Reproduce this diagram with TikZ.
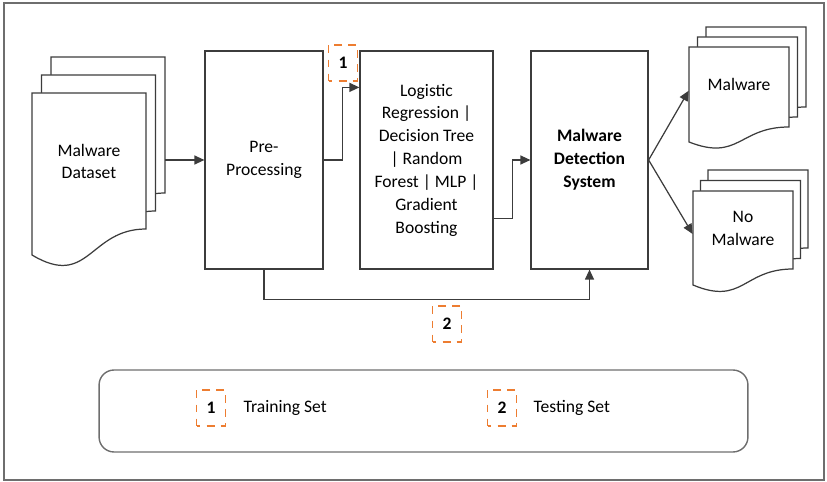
\documentclass[tikz,border=0pt]{standalone}
\usepackage{fontspec}
\setmainfont{Carlito}
\usetikzlibrary{positioning,fit,arrows.meta}

\definecolor{linegray}{RGB}{60,60,60}
\definecolor{framegray}{RGB}{110,110,110}
\definecolor{tagorange}{RGB}{237,125,49}

% three stacked document pages; #1 name, #2-#6 front page (x0, top, x1, right bottom, left bottom),
% #7/#8 offset of each page behind, #9 label on the front page
\newcommand{\docstack}[9]{%
  \foreach \k in {2,1,0}{
    \filldraw[page] ({#2+\k*#7},{#3-\k*#8}) -- ({#4+\k*#7},{#3-\k*#8})
      -- ({#4+\k*#7},{#5-\k*#8})
      .. controls ({(#2+#4)/2+\k*#7},{#5-\k*#8}) and ({(#2+#4)/2+\k*#7},{#5+2.31*(#6-#5)-\k*#8})
      .. ({#2+\k*#7},{#6-\k*#8}) -- cycle;
  }
  \node[fit={(#2,#3) (#4,{(#5+#6)/2})}, inner sep=0pt, align=center] (#1) {#9};
  \node[fit={({#2+2*#7},{#3-2*#8}) ({#4+2*#7},{#5-2*#8})}, inner sep=0pt] (#1-back) {};
}

\begin{document}
\begin{tikzpicture}[x=0.02cm, y=-0.02cm,
    font=\fontsize{10}{13}\selectfont,
    page/.style={draw=linegray, fill=white, line width=0.7pt},
    box/.style={draw=linegray, line width=0.7pt, minimum height=4.36cm, align=center},
    arr/.style={draw=linegray, line width=0.7pt, -{Triangle[length=2mm,width=1.8mm]}},
    tag/.style={draw=tagorange, line width=1.1pt, dash pattern=on 4.5pt off 3.5pt,
                dash phase=2.25pt, minimum width=0.58cm, minimum height=0.72cm,
                inner sep=0pt, font=\fontsize{10}{13}\selectfont\bfseries}]

  \useasboundingbox (0,0) rectangle (827,482);
  \draw[framegray, line width=0.9pt] (4,3) rectangle (824,480);

  % input and output documents
  \docstack{dataset}{32}{93}{146}{229}{255}{9.5}{18}{Malware\\Dataset}
  \docstack{mal}{689}{47}{789}{127}{142}{8.5}{10}{Malware}
  \docstack{nomal}{693}{191}{793}{269}{285}{7.5}{10.5}{No\\Malware}

  % processing blocks
  \node[box, minimum width=2.36cm] (pre) at (264,160) {Pre-\\Processing};
  \node[box, minimum width=2.66cm] (lr) at (426.5,160)
    {Logistic\\Regression |\\Decision Tree\\| Random\\Forest | MLP |\\Gradient\\Boosting};
  \node[box, minimum width=2.34cm, font=\fontsize{10}{13}\selectfont\bfseries] (mds) at (589.5,160)
    {Malware\\Detection\\System};

  % connectors
  \draw[arr] (dataset-back.east |- pre.west) -- (pre.west);
  \draw[arr] (pre.east) -- ++(19,0) |- ([yshift=-0.74cm]lr.north west);
  \draw[arr] ([yshift=1.02cm]lr.south east) -- ++(19,0) |- (mds.west);
  \draw[arr] (pre.south) -- ++(0,30) -| (mds.south);
  \draw[arr] (mds.east) -- (mal.west);
  \draw[arr] (mds.east) -- (nomal.west);

  % set markers
  \node[tag] (train) at (343,63) {1};
  \node[tag] (test) at (447,324) {2};

  % legend
  \node[draw=framegray, line width=0.8pt, rounded corners=0.3cm,
        minimum width=12.98cm, minimum height=1.64cm] (legend) at (423.5,411) {};
  \node[tag] (key1) at (211,408) {1};
  \node[right=0.22cm of key1] (train-txt) {Training Set};
  \node[tag] (key2) at (502,408) {2};
  \node[right=0.2cm of key2] (test-txt) {Testing Set};

\end{tikzpicture}
\end{document}
